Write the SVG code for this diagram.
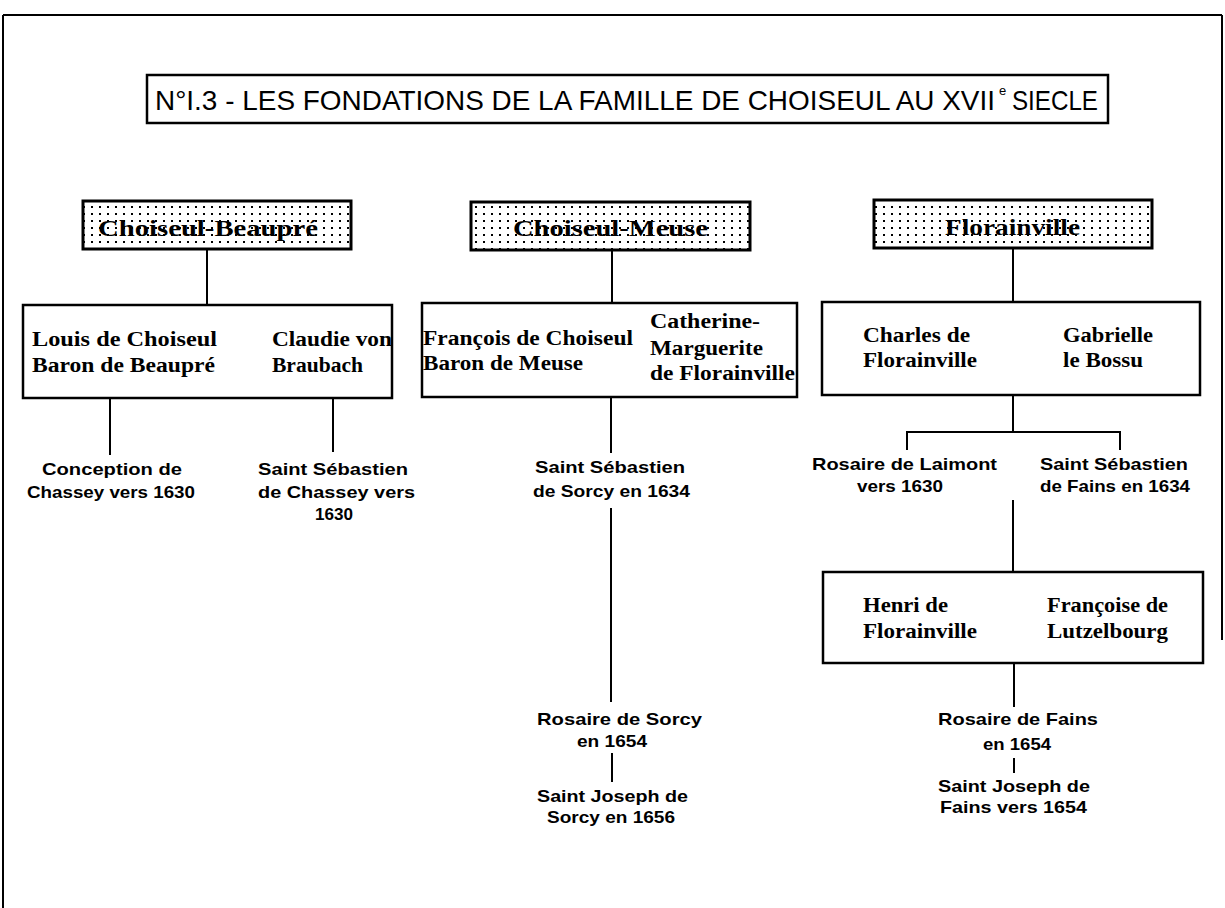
<svg xmlns="http://www.w3.org/2000/svg" width="1225" height="908" viewBox="0 0 1225 908">
<style>
.frame{fill:none;stroke:#000;stroke-width:2}
.hdr{fill:url(#dots);stroke:#000;stroke-width:3}
.box{fill:#fff;stroke:#000;stroke-width:2.5}
.hdrtxt{font-family:"Liberation Serif",serif;font-weight:bold;font-size:24px;fill:#000}
.name{font-family:"Liberation Serif",serif;font-weight:bold;font-size:20px;fill:#000}
.lbl{font-family:"Liberation Sans",Arial,sans-serif;font-weight:bold;font-size:17px;fill:#000}
.title{font-family:"Liberation Sans",Arial,sans-serif;font-size:28px;fill:#000}
.sup{font-family:"Liberation Sans",Arial,sans-serif;font-size:13px;fill:#000}
.conn line{stroke:#000;stroke-width:2}
</style>
<defs>
<pattern id="dots" x="0" y="0" width="8" height="7" patternUnits="userSpaceOnUse">
<rect width="8" height="7" fill="#fff"/>
<rect x="3" y="3" width="2" height="2" fill="#000"/>
</pattern>
</defs>
<rect width="1225" height="908" fill="#fff"/>
<g id="frame">
<line class="frame" x1="3" y1="15" x2="1222" y2="15"/>
<line class="frame" x1="3" y1="15" x2="3" y2="908"/>
<line class="frame" x1="1222" y1="15" x2="1222" y2="640"/>
</g>
<g id="title">
<rect x="147" y="75" width="961" height="48" fill="#fff" stroke="#000" stroke-width="2.5"/>
<text class="title" x="155" y="110" textLength="840" lengthAdjust="spacingAndGlyphs">N°I.3 - LES FONDATIONS DE LA FAMILLE DE CHOISEUL  AU XVII</text>
<text class="sup" x="999" y="95">e</text>
<text class="title" x="1012" y="110" textLength="86" lengthAdjust="spacingAndGlyphs">SIECLE</text>
</g>
<g class="conn" id="connectors">
<line x1="207" y1="250" x2="207" y2="305"/>
<line x1="612" y1="250" x2="612" y2="303"/>
<line x1="1013" y1="249" x2="1013" y2="302"/>
<line x1="110" y1="398" x2="110" y2="455"/>
<line x1="333" y1="398" x2="333" y2="452"/>
<line x1="611" y1="397" x2="611" y2="453"/>
<line x1="611" y1="508" x2="611" y2="702"/>
<line x1="612" y1="753" x2="612" y2="782"/>
<line x1="1013" y1="395" x2="1013" y2="432"/>
<line x1="906" y1="432" x2="1121" y2="432"/>
<line x1="907" y1="432" x2="907" y2="450"/>
<line x1="1120" y1="432" x2="1120" y2="450"/>
<line x1="1013" y1="500" x2="1013" y2="572"/>
<line x1="1014" y1="663" x2="1014" y2="707"/>
<line x1="1014" y1="758" x2="1014" y2="773"/>
</g>
<g id="hdr-beaupre">
<rect class="hdr" x="83" y="201" width="268" height="48"/>
<text class="hdrtxt" x="98" y="236" textLength="220" lengthAdjust="spacingAndGlyphs">Choiseul-Beaupré</text>
</g>
<g id="hdr-meuse">
<rect class="hdr" x="471" y="202" width="279" height="48"/>
<text class="hdrtxt" x="513" y="236" textLength="195" lengthAdjust="spacingAndGlyphs">Choiseul-Meuse</text>
</g>
<g id="hdr-florainville">
<rect class="hdr" x="874" y="200" width="278" height="48"/>
<text class="hdrtxt" x="945" y="235" textLength="135" lengthAdjust="spacingAndGlyphs">Florainville</text>
</g>
<g id="couple-beaupre">
<rect class="box" x="23" y="305" width="369" height="93"/>
<text class="name" x="32" y="346" textLength="185" lengthAdjust="spacingAndGlyphs">Louis de Choiseul</text>
<text class="name" x="32" y="372" textLength="183" lengthAdjust="spacingAndGlyphs">Baron de Beaupré</text>
<text class="name" x="272" y="346" textLength="120" lengthAdjust="spacingAndGlyphs">Claudie von</text>
<text class="name" x="272" y="372" textLength="91" lengthAdjust="spacingAndGlyphs">Braubach</text>
</g>
<g id="couple-meuse">
<rect class="box" x="422" y="303" width="375" height="94"/>
<text class="name" x="423" y="345" textLength="210" lengthAdjust="spacingAndGlyphs">François de Choiseul</text>
<text class="name" x="423" y="370" textLength="160" lengthAdjust="spacingAndGlyphs">Baron de Meuse</text>
<text class="name" x="650" y="328" textLength="110" lengthAdjust="spacingAndGlyphs">Catherine-</text>
<text class="name" x="650" y="355" textLength="113" lengthAdjust="spacingAndGlyphs">Marguerite</text>
<text class="name" x="650" y="380" textLength="145" lengthAdjust="spacingAndGlyphs">de Florainville</text>
</g>
<g id="couple-charles">
<rect class="box" x="822" y="302" width="378" height="93"/>
<text class="name" x="863" y="342" textLength="107" lengthAdjust="spacingAndGlyphs">Charles de</text>
<text class="name" x="863" y="367" textLength="114" lengthAdjust="spacingAndGlyphs">Florainville</text>
<text class="name" x="1063" y="342" textLength="90" lengthAdjust="spacingAndGlyphs">Gabrielle</text>
<text class="name" x="1063" y="367" textLength="80" lengthAdjust="spacingAndGlyphs">le Bossu</text>
</g>
<g id="couple-henri">
<rect class="box" x="823" y="572" width="380" height="91"/>
<text class="name" x="863" y="612" textLength="85" lengthAdjust="spacingAndGlyphs">Henri de</text>
<text class="name" x="863" y="638" textLength="114" lengthAdjust="spacingAndGlyphs">Florainville</text>
<text class="name" x="1047" y="612" textLength="121" lengthAdjust="spacingAndGlyphs">Françoise de</text>
<text class="name" x="1047" y="638" textLength="121" lengthAdjust="spacingAndGlyphs">Lutzelbourg</text>
</g>
<g id="conception-chassey">
<text class="lbl" x="42" y="475" textLength="140" lengthAdjust="spacingAndGlyphs">Conception de</text>
<text class="lbl" x="27" y="498" textLength="168" lengthAdjust="spacingAndGlyphs">Chassey vers 1630</text>
</g>
<g id="sebastien-chassey">
<text class="lbl" x="258" y="475" textLength="150" lengthAdjust="spacingAndGlyphs">Saint Sébastien</text>
<text class="lbl" x="258" y="498" textLength="157" lengthAdjust="spacingAndGlyphs">de Chassey vers</text>
<text class="lbl" x="315" y="520" textLength="38" lengthAdjust="spacingAndGlyphs">1630</text>
</g>
<g id="sebastien-sorcy">
<text class="lbl" x="535" y="473" textLength="150" lengthAdjust="spacingAndGlyphs">Saint Sébastien</text>
<text class="lbl" x="533" y="497" textLength="157" lengthAdjust="spacingAndGlyphs">de Sorcy en 1634</text>
</g>
<g id="rosaire-sorcy">
<text class="lbl" x="537" y="725" textLength="165" lengthAdjust="spacingAndGlyphs">Rosaire de Sorcy</text>
<text class="lbl" x="577" y="747" textLength="70" lengthAdjust="spacingAndGlyphs">en 1654</text>
</g>
<g id="joseph-sorcy">
<text class="lbl" x="537" y="802" textLength="151" lengthAdjust="spacingAndGlyphs">Saint Joseph de</text>
<text class="lbl" x="547" y="823" textLength="128" lengthAdjust="spacingAndGlyphs">Sorcy en 1656</text>
</g>
<g id="rosaire-laimont">
<text class="lbl" x="812" y="470" textLength="185" lengthAdjust="spacingAndGlyphs">Rosaire de Laimont</text>
<text class="lbl" x="857" y="492" textLength="86" lengthAdjust="spacingAndGlyphs">vers 1630</text>
</g>
<g id="sebastien-fains">
<text class="lbl" x="1040" y="470" textLength="148" lengthAdjust="spacingAndGlyphs">Saint Sébastien</text>
<text class="lbl" x="1040" y="492" textLength="150" lengthAdjust="spacingAndGlyphs">de Fains en 1634</text>
</g>
<g id="rosaire-fains">
<text class="lbl" x="938" y="725" textLength="160" lengthAdjust="spacingAndGlyphs">Rosaire de Fains</text>
<text class="lbl" x="983" y="750" textLength="68" lengthAdjust="spacingAndGlyphs">en 1654</text>
</g>
<g id="joseph-fains">
<text class="lbl" x="938" y="792" textLength="152" lengthAdjust="spacingAndGlyphs">Saint Joseph de</text>
<text class="lbl" x="940" y="813" textLength="147" lengthAdjust="spacingAndGlyphs">Fains vers 1654</text>
</g>
</svg>
